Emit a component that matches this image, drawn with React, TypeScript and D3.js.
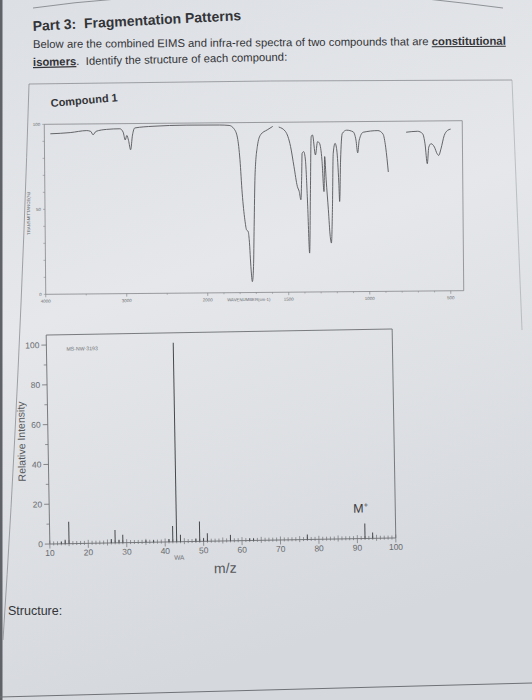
import React from "react";
import * as d3 from "d3";

// ---------- IR spectrum (wavenumber cm-1, %T); null = pen gap ----------
const irWavenumber = [3926,3681,3476,3427,3399,3362,3231,3067,3027,3002,2982,2961,2937,2912,2883,2658,2249,1920,1859,1829,1808,1794,1782,1767,1757,1747,1741,1731,1724,1716,1710,1702,1686,1665,1624,1590,1572,1553,1512,1481,1461,1441,1430,1420,1414,1410,1400,1390,1379,1369,1361,1353,1345,1328,1314,1302,1288,1277,1271,1263,1251,1241,1234,1226,1218,1206,1196,1185,1181,1173,1161,1134,1094,1077,1067,1057,1032,941,910,894,879,820,767,696,665,651,638,628,614,593,577,567,553,532,512,492];
const irTransmittance: (number | null)[] = [94.4,95.0,96.1,95.6,93.6,95.6,96.7,97.0,95.0,90.4,93.0,90.0,84.6,93.2,97.4,98.3,98.8,98.7,98.4,96.4,91.0,78.2,58.5,42.8,36.9,35.9,31.0,13.3,6.4,15.2,38.8,68.3,85.9,92.8,95.6,97.6,null,97.2,94.6,85.7,73.9,62.1,59.2,54.3,68.0,81.7,82.6,77.7,52.3,22.9,58.1,91.4,92.4,80.6,88.4,87.4,77.6,59.0,79.6,65.9,48.3,32.6,28.7,48.3,81.5,87.3,83.4,63.9,53.1,77.5,93.1,95.0,94.0,89.1,81.6,89.0,93.7,94.6,92.6,84.8,70.2,null,93.5,94.0,92.5,86.6,74.9,84.6,86.6,84.6,80.7,79.7,83.5,91.4,94.3,95.1];
const irXTickLabels = [4000, 3000, 2000, 1500, 1000, 500];
const irYTickLabels = [0, 50, 100];

// ---------- Mass spectrum ----------
const msMz = [13,14,15,26,27,28,29,35,37,41,42,43,44,48,49,50,51,57,62,63,77,92,94];
const msIntensity = [1,2,11,2,6.5,1.5,4,1,1,1.5,8,100,3.5,1.5,10,1.5,4,3,1,1,2.5,7.5,3];
const msXTickLabels = [10,20,30,40,50,60,70,80,90,100];
const msYTickLabels = [0,20,40,60,80,100];

const FONT = "'Liberation Sans', Arial, Helvetica, sans-serif";
const INK = "#333438";

export default function App() {
  const W = 532, H = 700;

  // IR scales
  const irX = d3.scaleLinear().domain([4000, 2000, 420]).range([45, 207, 463]);
  const irY = d3.scaleLinear().domain([0, 100]).range([292.5, 122.5]);
  const irPts = irWavenumber.map((w, i) => ({ w, t: irTransmittance[i] }));
  const irLine = d3
    .line<{ w: number; t: number | null }>()
    .defined((d) => d.t != null)
    .x((d) => irX(d.w))
    .y((d) => irY(d.t as number))
    .curve(d3.curveMonotoneX);
  const irMinor = [3500, 2500, ...d3.range(1900, 420, -100).filter((v) => !irXTickLabels.includes(v))];
  const irYMinor = d3.range(0, 101, 10);

  // MS scales
  const msX = d3.scaleLinear().domain([10, 100]).range([48, 394]);
  const msY = d3.scaleLinear().domain([0, 100]).range([541, 342]);
  const msTop = 332;
  const msUnits = d3.range(10, 101, 1);
  const msYMinor = d3.range(10, 100, 20);

  return (
    <svg
      width={W}
      height={H}
      viewBox={`0 0 ${W} ${H}`}
      style={{ position: "absolute", left: 0, top: 0, display: "block" }}
      fontFamily={FONT}
    >
      <defs>
        <linearGradient id="paper" x1="0" y1="0" x2="0.25" y2="1">
          <stop offset="0" stopColor="#dcdfe4" />
          <stop offset="0.45" stopColor="#e5e7ea" />
          <stop offset="1" stopColor="#d5d8dd" />
        </linearGradient>
      </defs>
      <rect x={0} y={0} width={W} height={H} fill="url(#paper)" />
      <rect x={0} y={0} width={2.5} height={H} fill="#5f6368" />

      {/* page rules */}
      <path d="M33,8 Q75,2 117,-1" fill="none" stroke="#7a7d82" strokeWidth={0.8} />
      <path d="M427,-1 Q465,3 503,8" fill="none" stroke="#7a7d82" strokeWidth={0.8} />
      <path d="M29,84 Q20,380 3,640" fill="none" stroke="#8a8d92" strokeWidth={0.8} />
      <path d="M29,84 Q270,80 512,80" fill="none" stroke="#8a8d92" strokeWidth={0.8} />
      <path d="M512,80 L522,330" fill="none" stroke="#a0a3a8" strokeWidth={0.6} />
      <line x1={0} y1={697} x2={532} y2={683} stroke="#6f7277" strokeWidth={1} />

      {/* heading texts */}
      <text x={33} y={31} fontSize={14} fontWeight="bold" fill={INK} transform="rotate(-3,33,31)">
        {"Part 3:\u00a0 Fragmentation Patterns"}
      </text>
      <text x={33} y={48} fontSize={11.3} fill={INK} transform="rotate(-0.4,33,48)">
        {"Below are the combined EIMS and infra-red spectra of two compounds that are "}
        <tspan fontWeight="bold" textDecoration="underline">constitutional</tspan>
      </text>
      <text x={33} y={66} fontSize={11.3} fill={INK} transform="rotate(-1.2,33,66)">
        <tspan fontWeight="bold" textDecoration="underline">isomers</tspan>
        {".\u00a0 Identify the structure of each compound:"}
      </text>
      <text x={51} y={107} fontSize={11} fontWeight="bold" fill={INK} transform="rotate(-5,51,107)">
        Compound 1
      </text>

      {/* IR spectrum */}
      <g transform="rotate(-0.5,254,208)">
        <rect x={irX(4000)} y={irY(100)} width={irX(420) - irX(4000)} height={irY(0) - irY(100)} fill="none" stroke="#77797d" strokeWidth={0.7} />
        {irYMinor.map((v) => (
          <line key={"iry" + v} x1={irX(4000) - 2} x2={irX(4000)} y1={irY(v)} y2={irY(v)} stroke="#77797d" strokeWidth={0.5} />
        ))}
        {irYTickLabels.map((v) => (
          <text key={"iryl" + v} x={irX(4000) - 4} y={irY(v) + 1.5} fontSize={4.5} textAnchor="end" fill="#6a6c70">{v}</text>
        ))}
        {irMinor.map((v) => (
          <line key={"irm" + v} x1={irX(v)} x2={irX(v)} y1={irY(0)} y2={irY(0) + 1.5} stroke="#77797d" strokeWidth={0.5} />
        ))}
        {irXTickLabels.map((v) => (
          <g key={"irx" + v}>
            <line x1={irX(v)} x2={irX(v)} y1={irY(0)} y2={irY(0) + 3} stroke="#77797d" strokeWidth={0.6} />
            <text x={irX(v)} y={irY(0) + 8.5} fontSize={4.5} textAnchor="middle" fill="#6a6c70">{v}</text>
          </g>
        ))}
        <text x={248} y={irY(0) + 8.5} fontSize={4.3} textAnchor="middle" fill="#6a6c70">WAVENUMBER(cm-1)</text>
        <text transform={`translate(30,${irY(50) + 4}) rotate(-90)`} fontSize={4.3} textAnchor="middle" fill="#6a6c70">TRANSMITTANCE(%)</text>
        <path d={irLine(irPts) || ""} fill="none" stroke="#55575b" strokeWidth={0.9} strokeLinejoin="round" />
      </g>

      {/* Mass spectrum */}
      <g transform="rotate(-1,221,437)">
        <rect x={msX(10)} y={msTop} width={msX(100) - msX(10)} height={msY(0) - msTop} fill="none" stroke="#6d6f73" strokeWidth={0.9} />
        {msYTickLabels.map((v) => (
          <g key={"msy" + v}>
            <line x1={msX(10) - 5} x2={msX(10)} y1={msY(v)} y2={msY(v)} stroke="#6d6f73" strokeWidth={0.8} />
            <text x={msX(10) - 7} y={msY(v) + 3} fontSize={8.5} textAnchor="end" fill="#6a6c70">{v}</text>
          </g>
        ))}
        {msYMinor.map((v) => (
          <line key={"msym" + v} x1={msX(10) - 3} x2={msX(10)} y1={msY(v)} y2={msY(v)} stroke="#6d6f73" strokeWidth={0.7} />
        ))}
        {msUnits.map((v) => {
          const major = v % 10 === 0;
          const mid = v % 5 === 0;
          return (
            <line
              key={"msu" + v}
              x1={msX(v)}
              x2={msX(v)}
              y1={msY(0) - (mid ? 3.5 : 2.5)}
              y2={msY(0) + (major ? 4.5 : mid ? 2.5 : 1.5)}
              stroke="#6d6f73"
              strokeWidth={0.7}
            />
          );
        })}
        {msXTickLabels.map((v) => (
          <text key={"msx" + v} x={msX(v)} y={msY(0) + 12} fontSize={8.5} textAnchor="middle" fill="#6a6c70">{v}</text>
        ))}
        {msMz.map((m, i) => (
          <line key={"pk" + m} x1={msX(m)} x2={msX(m)} y1={msY(0)} y2={msY(msIntensity[i])} stroke="#46484c" strokeWidth={1} />
        ))}
        <text x={68} y={348} fontSize={5.2} fill="#707276">MS-NW-3193</text>
        <text x={352} y={515} fontSize={12.5} fill="#3a3b3e">
          M<tspan fontSize={7.5} dy={-5}>+</tspan>
        </text>
        <text x={172} y={559} fontSize={6.5} fill="#707276">WA</text>
        <text x={223} y={573} fontSize={14} textAnchor="middle" fill="#55575b">m/z</text>
        <text transform="translate(25,438) rotate(-90)" fontSize={10.5} textAnchor="middle" fill="#55575b">Relative Intensity</text>
      </g>

      <text x={8} y={615} fontSize={12.5} fill={INK}>Structure:</text>
    </svg>
  );
}
